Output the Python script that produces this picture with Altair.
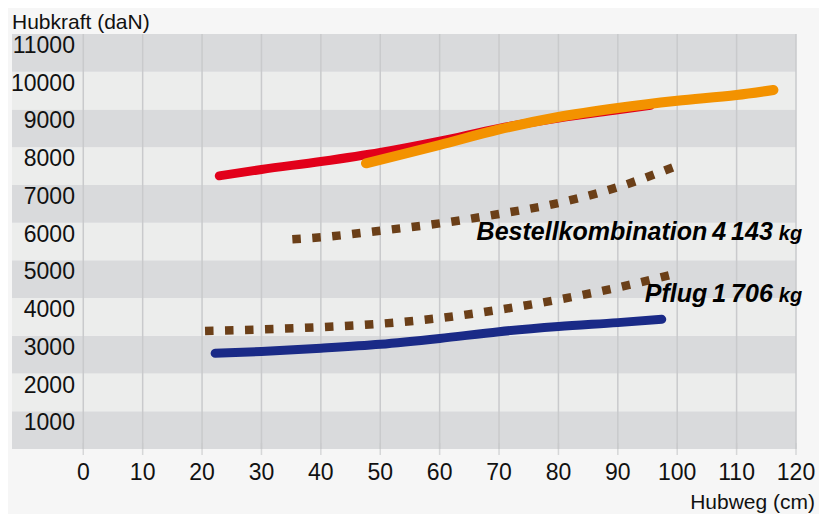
import altair as alt
import pandas as pd

# ---------------- data ----------------
x_ticks = [0, 10, 20, 30, 40, 50, 60, 70, 80, 90, 100, 110, 120]
y_ticks = [1000, 2000, 3000, 4000, 5000, 6000, 7000, 8000, 9000, 10000, 11000]
band_starts = [0, 1000, 2000, 3000, 4000, 5000, 6000, 7000, 8000, 9000, 10000]

red_x = [22.9, 30, 40, 50, 60, 70, 80, 90, 95.5]
red_y = [7240, 7410, 7620, 7860, 8160, 8500, 8770, 8990, 9110]

orange_x = [47.6, 60, 70, 80, 90, 100, 110, 116.2]
orange_y = [7573, 8058, 8470, 8800, 9040, 9230, 9383, 9516]

best_x = [35.2, 40, 50, 60, 70, 80, 90, 99.5]
best_y = [5558, 5611, 5786, 5980, 6229, 6520, 6940, 7480]

pflug_x = [20.5, 30, 40, 50, 60, 70, 80, 90, 100]
pflug_y = [3130, 3170, 3230, 3320, 3470, 3690, 3960, 4280, 4660]

blue_x = [22.2, 30, 40, 50, 60, 70, 80, 90, 97.4]
blue_y = [2536, 2585, 2670, 2775, 2930, 3110, 3245, 3350, 3437]

label_text = ["Bestellkombination\u20094\u2009143", "Pflug\u20091\u2009706"]
label_x = [116.1, 116.1]
label_y = [5540, 3905]
label_unit = ["kg", "kg"]

y_title = "Hubkraft (daN)"
x_title = "Hubweg (cm)"

X_MIN, X_MAX = -12, 120
Y_MIN, Y_MAX = 0, 11000
Y_LABEL_X = -1.4

FONT = "Liberation Sans, Arial, sans-serif"
INK = "#111111"
GRID = "#c9cacc"

# ---------------- frames ----------------
bands = pd.DataFrame({
    "y0": band_starts,
    "y1": [b + 1000 for b in band_starts],
    "x0": [X_MIN] * len(band_starts),
    "x1": [X_MAX] * len(band_starts),
    "fill": ["#d9dadc" if (b // 1000) % 2 == 0 else "#ecedec" for b in band_starts],
})
grid = pd.DataFrame({"x": x_ticks, "y0": [Y_MIN] * len(x_ticks), "y1": [Y_MAX] * len(x_ticks)})
ylab = pd.DataFrame({"y": y_ticks, "x": [Y_LABEL_X] * len(y_ticks), "t": [str(v) for v in y_ticks]})
xlab = pd.DataFrame({"x": x_ticks, "y": [Y_MIN] * len(x_ticks), "t": [str(v) for v in x_ticks]})

xs = alt.Scale(domain=[X_MIN, X_MAX], nice=False, zero=False)
ys = alt.Scale(domain=[Y_MIN, Y_MAX], nice=False, zero=False)


def X(f):
    return alt.X(f, type="quantitative", scale=xs, axis=None)


def Y(f):
    return alt.Y(f, type="quantitative", scale=ys, axis=None)


band_layer = alt.Chart(bands).mark_rect().encode(
    x=X("x0"), x2="x1", y=Y("y0"), y2="y1",
    color=alt.Color("fill:N", scale=None),
)

grid_layer = alt.Chart(grid).mark_rule(color=GRID, strokeWidth=1.5).encode(
    x=X("x"), y=Y("y0"), y2="y1",
)
tick_layer = alt.Chart(grid).mark_tick(
    color=GRID, thickness=1.5, size=12, orient="vertical"
).encode(x=X("x"), y=Y("y0"))

ylab_layer = alt.Chart(ylab).mark_text(
    align="right", baseline="top", font=FONT, fontSize=23, color=INK, dy=1,
).encode(x=X("x"), y=Y("y"), text="t:N")

xlab_layer = alt.Chart(xlab).mark_text(
    align="center", baseline="top", font=FONT, fontSize=23, color=INK, dy=13,
).encode(x=X("x"), y=Y("y"), text="t:N")

ytitle_layer = alt.Chart(pd.DataFrame({"x": [X_MIN], "y": [Y_MAX], "t": [y_title]})).mark_text(
    align="left", baseline="alphabetic", font=FONT, fontSize=21, color=INK, dy=-5,
).encode(x=X("x"), y=Y("y"), text="t:N")

xtitle_layer = alt.Chart(pd.DataFrame({"x": [X_MAX], "y": [Y_MIN], "t": [x_title]})).mark_text(
    align="right", baseline="alphabetic", font=FONT, fontSize=21, color=INK, dx=19, dy=60,
).encode(x=X("x"), y=Y("y"), text="t:N")


def series(xv, yv, color, width, dash=None):
    df = pd.DataFrame({"x": xv, "y": yv})
    kw = dict(color=color, strokeWidth=width, interpolate="monotone")
    if dash:
        kw.update(strokeDash=dash, strokeCap="butt")
    else:
        kw.update(strokeCap="round")
    return alt.Chart(df).mark_line(**kw).encode(x=X("x"), y=Y("y"))


brown = "#6b3f18"
red_layer = series(red_x, red_y, "#e2001a", 9)
orange_layer = series(orange_x, orange_y, "#f39200", 10)
best_layer = series(best_x, best_y, brown, 8.5, [8.5, 11.5])
pflug_layer = series(pflug_x, pflug_y, brown, 8.5, [8.5, 11.5])
blue_layer = series(blue_x, blue_y, "#1a2a87", 9)

labels = pd.DataFrame({"x": label_x, "y": label_y, "t": label_text, "u": label_unit})
label_layer = alt.Chart(labels).mark_text(
    align="right", baseline="alphabetic", font=FONT, fontSize=25,
    fontStyle="italic", fontWeight="bold", color="#000000",
).encode(x=X("x"), y=Y("y"), text="t:N")
unit_layer = alt.Chart(labels).mark_text(
    align="left", baseline="alphabetic", font=FONT, fontSize=20,
    fontStyle="italic", fontWeight="bold", color="#000000", dx=6,
).encode(x=X("x"), y=Y("y"), text="u:N")

chart = alt.layer(
    band_layer, grid_layer, tick_layer, ylab_layer, xlab_layer, ytitle_layer, xtitle_layer,
    pflug_layer, best_layer, blue_layer, red_layer, orange_layer, label_layer, unit_layer,
).properties(
    width=784, height=415,
    autosize=alt.AutoSizeParams(type="none"),
    padding={"left": 4, "top": 26, "right": 23, "bottom": 65},
    background="#f6f6f6",
).configure_view(stroke=None)

chart.save("out.html", embed_options={"renderer": "svg", "actions": False})
